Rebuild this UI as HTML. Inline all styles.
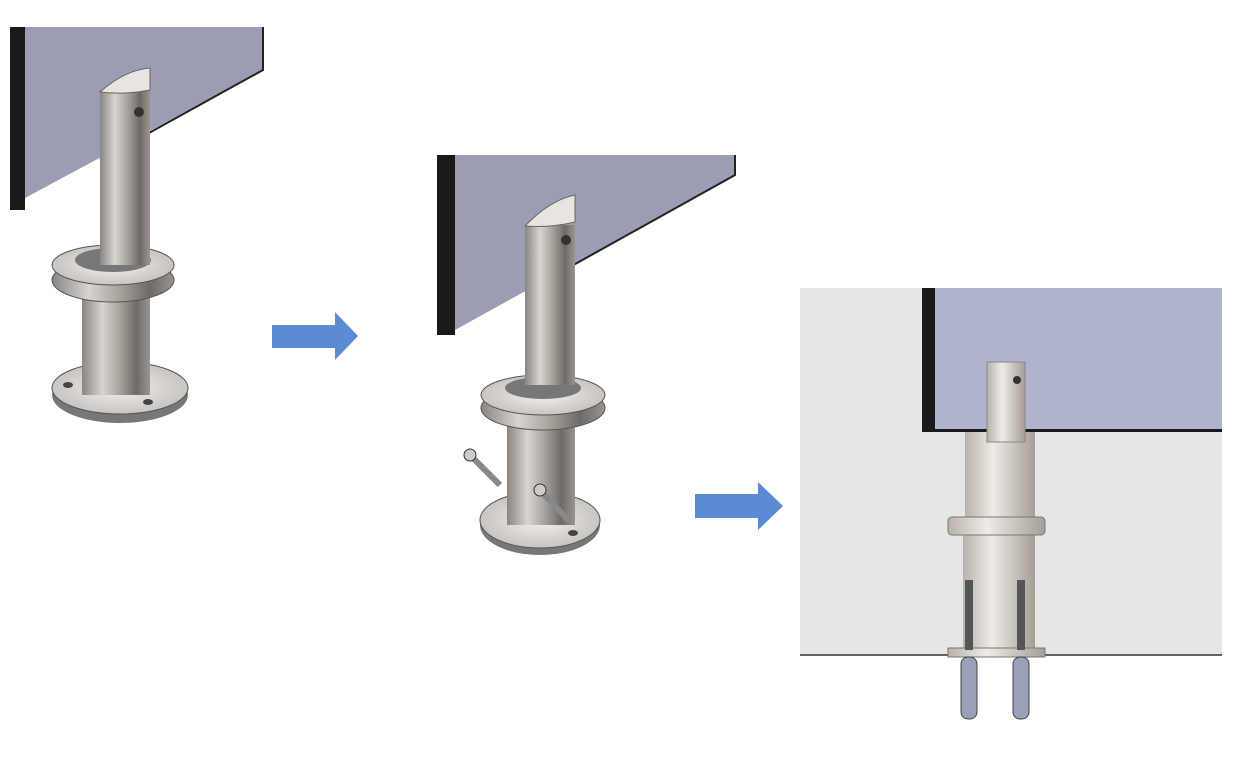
<!DOCTYPE html>
<html><head><meta charset="utf-8"><style>html,body{margin:0;padding:0;background:#fff}svg{display:block}</style></head>
<body>
<svg width="1240" height="768" viewBox="0 0 1240 768" xmlns="http://www.w3.org/2000/svg">
<defs>
<linearGradient id="m" x1="0" x2="1" y1="0" y2="0">
<stop offset="0" stop-color="#8a8580"/><stop offset="0.3" stop-color="#d8d4cf"/><stop offset="0.55" stop-color="#a8a39d"/><stop offset="0.8" stop-color="#6e6a66"/><stop offset="1" stop-color="#9a9590"/></linearGradient>
<linearGradient id="m2" x1="0" x2="1" y1="0" y2="0">
<stop offset="0" stop-color="#b8b2aa"/><stop offset="0.4" stop-color="#efebe6"/><stop offset="0.7" stop-color="#c9c4bd"/><stop offset="1" stop-color="#a49e97"/></linearGradient>
<radialGradient id="p"><stop offset="0" stop-color="#f2f0ee"/><stop offset="1" stop-color="#c8c4c0"/></radialGradient>
</defs>

<!-- Panel 1 -->
<polygon points="25,27 263,27 263,70 25,198" fill="#9a9db3"/>
<polyline points="263,27 263,70 100,160" fill="none" stroke="#222" stroke-width="2"/>
<rect x="10" y="27" width="15" height="183" fill="#1a1a1a"/>
<ellipse cx="120" cy="395" rx="68" ry="28" fill="#777"/>
<ellipse cx="120" cy="388" rx="68" ry="26" fill="url(#p)" stroke="#555"/>
<ellipse cx="68" cy="385" rx="5" ry="3" fill="#444"/><ellipse cx="148" cy="402" rx="5" ry="3" fill="#444"/>
<rect x="82" y="295" width="68" height="100" fill="url(#m)"/>
<ellipse cx="113" cy="280" rx="61" ry="22" fill="url(#m)" stroke="#555"/>
<ellipse cx="113" cy="265" rx="61" ry="20" fill="url(#p)" stroke="#555"/>
<ellipse cx="113" cy="260" rx="38" ry="12" fill="#777"/>
<rect x="100" y="90" width="50" height="175" fill="url(#m)"/>
<path d="M100 92 Q125 70 150 68 L150 90 Q125 95 100 92Z" fill="#e8e4df" stroke="#666"/>
<circle cx="139" cy="112" r="5" fill="#333"/>

<!-- Arrow 1 -->
<polygon points="272,325 335,325 335,312 358,336 335,360 335,348 272,348" fill="#5b8bd4"/>

<!-- Panel 2 -->
<polygon points="455,155 735,155 735,175 455,330" fill="#9a9db3"/>
<polyline points="735,155 735,175 525,292" fill="none" stroke="#222" stroke-width="2"/>
<rect x="437" y="155" width="18" height="180" fill="#1a1a1a"/>
<ellipse cx="540" cy="525" rx="60" ry="30" fill="#777"/>
<ellipse cx="540" cy="520" rx="60" ry="28" fill="url(#p)" stroke="#555"/>
<ellipse cx="573" cy="533" rx="5" ry="3" fill="#444"/>
<rect x="507" y="420" width="68" height="105" fill="url(#m)"/>
<ellipse cx="543" cy="408" rx="62" ry="22" fill="url(#m)" stroke="#555"/>
<ellipse cx="543" cy="395" rx="62" ry="20" fill="url(#p)" stroke="#555"/>
<ellipse cx="543" cy="388" rx="38" ry="11" fill="#777"/>
<rect x="525" y="225" width="50" height="160" fill="url(#m)"/>
<path d="M525 226 Q550 200 575 195 L575 222 Q550 228 525 226Z" fill="#e8e4df" stroke="#666"/>
<circle cx="566" cy="240" r="5" fill="#333"/>
<line x1="470" y1="455" x2="500" y2="485" stroke="#888" stroke-width="6"/>
<circle cx="470" cy="455" r="6" fill="#ccc" stroke="#333"/>
<line x1="540" y1="490" x2="570" y2="522" stroke="#888" stroke-width="6"/>
<circle cx="540" cy="490" r="6" fill="#ccc" stroke="#333"/>

<!-- Arrow 2 -->
<polygon points="695,494 758,494 758,482 783,506 758,530 758,518 695,518" fill="#5b8bd4"/>

<!-- Panel 3 -->
<rect x="800" y="288" width="422" height="367" fill="#e6e6e6"/>
<rect x="935" y="288" width="287" height="144" fill="#b0b3cc"/>
<rect x="922" y="288" width="13" height="144" fill="#1a1a1a"/>
<rect x="922" y="429" width="300" height="3" fill="#1a1a1a"/>
<line x1="800" y1="655" x2="1222" y2="655" stroke="#333" stroke-width="1.5"/>
<rect x="965" y="432" width="70" height="88" fill="url(#m2)"/>
<rect x="987" y="362" width="38" height="80" fill="url(#m2)" stroke="#888"/>
<circle cx="1017" cy="380" r="4" fill="#333"/>
<rect x="963" y="535" width="72" height="113" fill="url(#m2)"/>
<rect x="948" y="517" width="97" height="18" rx="4" fill="url(#m2)" stroke="#777"/>
<rect x="948" y="648" width="97" height="9" fill="url(#m2)" stroke="#777"/>
<rect x="965" y="580" width="8" height="70" fill="#555"/>
<rect x="1017" y="580" width="8" height="70" fill="#555"/>
<rect x="961" y="657" width="16" height="62" rx="7" fill="#9aa0b8" stroke="#444"/>
<rect x="1013" y="657" width="16" height="62" rx="7" fill="#9aa0b8" stroke="#444"/>
</svg>
</body></html>
